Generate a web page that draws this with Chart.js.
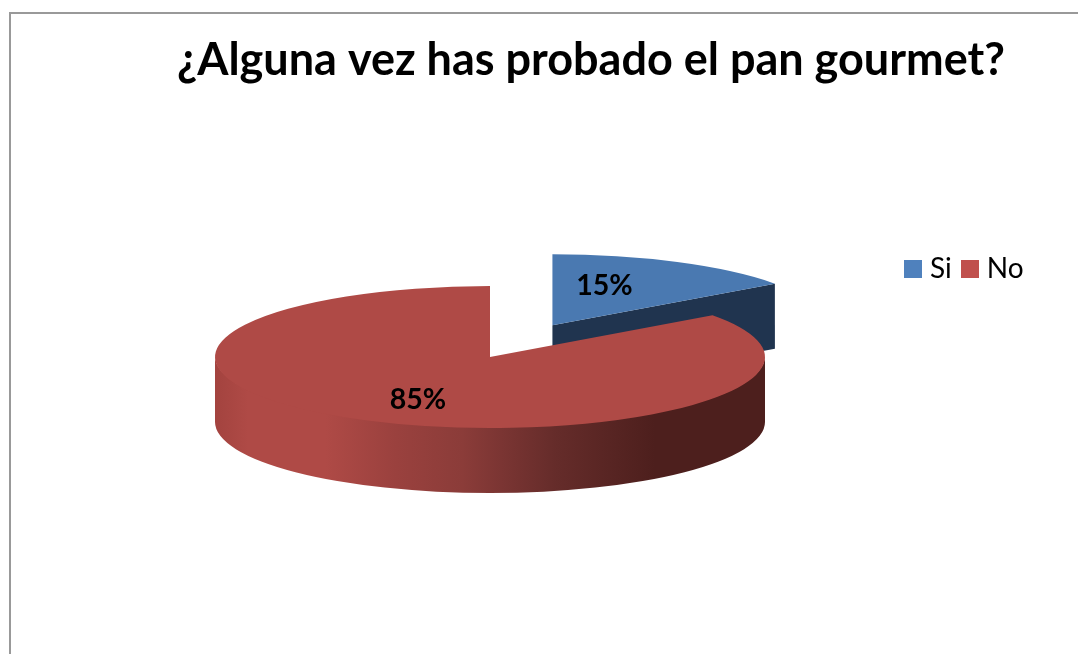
<!DOCTYPE html>
<html><head><meta charset="utf-8">
<style>html,body{margin:0;padding:0;background:#fff;overflow:hidden}canvas{display:block}</style>
<script src="https://cdn.jsdelivr.net/npm/chart.js@4"></script>
</head><body><canvas id="c" width="1078" height="654"></canvas>
<script>
const titleText = '¿Alguna vez has probado el pan gourmet?';
const categories = ['Si', 'No'];
const values = [15, 85];
const topColors = ['#4A79B1', '#AF4A46'];
const faceColors = ['#20344F', '#4D1F1D'];
const legendColors = ['#4F81BD', '#C0504D'];

// view of the tilted pie
const view = {cx: 490, cy: 357, rx: 275, ry: 71, depth: 65, explode: [0.5, 0]};
const labelFrac = [[0.416, 0.63], [0.577, 0.68]];

function swatch(color) {
  const s = document.createElement('canvas');
  s.width = 18; s.height = 18;
  const g = s.getContext('2d');
  g.fillStyle = color; g.fillRect(0, 0, 18, 18);
  return s;
}
const swatches = legendColors.map(swatch);

function centre(arc, R) {
  return {x: view.cx + (arc.x - pie.base.x) * view.rx / R, y: view.cy + (arc.y - pie.base.y) * view.ry / R};
}
const pie = {base: null};

const pie3d = {
  id: 'pie3d',
  beforeDraw(chart) {
    const c = chart.ctx;
    c.save();
    c.fillStyle = '#fff'; c.fillRect(0, 0, chart.width, chart.height);
    c.strokeStyle = '#999'; c.lineWidth = 2;
    c.beginPath(); c.moveTo(10, chart.height); c.lineTo(10, 13); c.lineTo(chart.width, 13); c.stroke();
    c.restore();
  },
  afterLayout(chart) {
    const t = chart.titleBlock; t.left = 104; t.right = chart.width;
    const l = chart.legend; const h = l.bottom - l.top;
    l.left = 895; l.right = chart.width + 200; l.top = 240; l.bottom = l.top + h + 10;
  },
  beforeDatasetsDraw(chart) {
    const c = chart.ctx, arcs = chart.getDatasetMeta(0).data;
    const base = arcs[arcs.length - 1];
    pie.base = {x: base.x, y: base.y};
    const R = base.outerRadius;
    arcs.forEach((a, i) => {
      const mid = (a.startAngle + a.endAngle) / 2;
      a.x = pie.base.x + Math.cos(mid) * view.explode[i] * R;
      a.y = pie.base.y + Math.sin(mid) * view.explode[i] * R;
    });
    const grad = c.createLinearGradient(view.cx - view.rx, 0, view.cx + view.rx, 0);
    [[0,'#A3433F'],[0.06,'#AF4A46'],[0.2,'#AF4A46'],[0.33,'#9A413E'],[0.45,'#8B3C39'],[0.52,'#7B3533'],[0.62,'#652C2A'],[0.8,'#4D1F1D'],[1,'#4D1F1D']]
      .forEach(s => grad.addColorStop(s[0], s[1]));
    arcs.forEach((a, i) => {
      const o = centre(a, R), d = view.depth;
      // visible straight cut faces
      const faces = [];
      if (Math.cos(a.startAngle) < -1e-6) faces.push(a.startAngle);
      if (Math.cos(a.endAngle) > 1e-6) faces.push(a.endAngle);
      c.fillStyle = faceColors[i];
      faces.forEach(t => {
        const ex = o.x + view.rx * Math.cos(t), ey = o.y + view.ry * Math.sin(t);
        c.beginPath(); c.moveTo(o.x, o.y); c.lineTo(ex, ey); c.lineTo(ex, ey + d); c.lineTo(o.x, o.y + d);
        c.closePath(); c.fill();
      });
      // visible rim (front half of the ellipse)
      const from = Math.max(a.startAngle, 0), to = Math.min(a.endAngle, Math.PI);
      if (to > from) {
        c.fillStyle = i === 1 ? grad : faceColors[i];
        c.beginPath();
        c.ellipse(o.x, o.y - 1, view.rx, view.ry, 0, from, to);
        c.ellipse(o.x, o.y + d, view.rx, view.ry, 0, to, from, true);
        c.closePath(); c.fill();
      }
    });
    c.save();
    c.translate(view.cx, view.cy);
    c.scale(view.rx / R, view.ry / R);
    c.translate(-pie.base.x, -pie.base.y);
  },
  afterDatasetsDraw(chart) {
    const c = chart.ctx, arcs = chart.getDatasetMeta(0).data;
    c.restore();
    const R = arcs[arcs.length - 1].outerRadius;
    const total = values.reduce((p, v) => p + v, 0);
    c.save();
    c.font = 'bold 28.5px Lato';
    c.fillStyle = '#000'; c.textAlign = 'center'; c.textBaseline = 'middle';
    arcs.forEach((a, i) => {
      const o = centre(a, R), mid = (a.startAngle + a.endAngle) / 2;
      c.fillText(Math.round(values[i] / total * 100) + '%',
        o.x + Math.cos(mid) * view.rx * labelFrac[i][0],
        o.y + Math.sin(mid) * view.ry * labelFrac[i][1]);
    });
    c.restore();
  }
};

new Chart(document.getElementById('c'), {
  type: 'pie',
  data: {labels: categories, datasets: [{data: values, backgroundColor: topColors, borderWidth: 0, clip: false}]},
  options: {
    responsive: false, animation: false,
    events: [],
    plugins: {
      tooltip: {enabled: false},
      title: {display: true, text: titleText, color: '#000', align: 'center',
        font: {family: 'Lato', size: 45, weight: 'bold'}, padding: {top: 33, bottom: 10}},
      legend: {display: true, position: 'top', align: 'start',
        labels: {
          usePointStyle: true, pointStyleWidth: 6, padding: 15, color: '#000',
          font: {family: 'Lato', size: 28},
          generateLabels: () => categories.map((t, i) => ({text: t, pointStyle: swatches[i], fillStyle: legendColors[i], strokeStyle: legendColors[i], lineWidth: 0, index: i, hidden: false}))
        }}
    }
  },
  plugins: [pie3d]
});
</script></body></html>
